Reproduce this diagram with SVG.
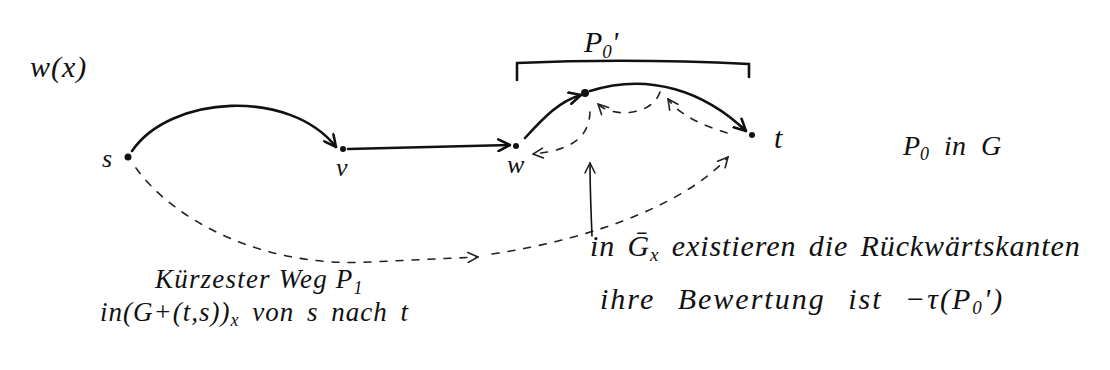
<svg xmlns="http://www.w3.org/2000/svg" width="1110" height="370" viewBox="0 0 1110 370">
<style>
  text { font-family: "Liberation Serif", "DejaVu Serif", serif; font-style: italic; fill: #111; }
  .solid { fill: none; stroke: #111; stroke-width: 2.6; stroke-linecap: round; }
  .dash { fill: none; stroke: #222; stroke-width: 1.6; stroke-dasharray: 7 9; stroke-linecap: round; }
  .thin { fill: none; stroke: #111; stroke-width: 1.6; stroke-linecap: round; }
  .node { fill: #111; }
</style>
<defs>
  <marker id="arrS" viewBox="0 0 12 12" refX="11" refY="6" markerWidth="14" markerHeight="14" markerUnits="userSpaceOnUse" orient="auto">
    <path d="M1,1 L11,6 L1,11" fill="none" stroke="#111" stroke-width="2.2" stroke-linecap="round"/>
  </marker>
  <marker id="arrD" viewBox="0 0 12 12" refX="11" refY="6" markerWidth="12" markerHeight="12" markerUnits="userSpaceOnUse" orient="auto">
    <path d="M1,1 L11,6 L1,11" fill="none" stroke="#222" stroke-width="1.6" stroke-linecap="round"/>
  </marker>
</defs>

<text x="30" y="77" font-size="30" letter-spacing="1">w(x)</text>

<g id="connectors">
  <path class="solid" d="M132,151 C170,95 290,88 336,147" marker-end="url(#arrS)"/>
  <path class="solid" d="M348,149 L510,145" marker-end="url(#arrS)"/>
  <path class="solid" d="M525,138 C545,116 560,101 581,95" marker-end="url(#arrS)"/>
  <path class="solid" d="M590,91 C650,72 705,92 746,131" marker-end="url(#arrS)"/>
  <path class="solid" d="M517,80 L517,63 Q630,58 749,64 L749,77"/>
  <path class="dash" d="M590,112 C589,135 575,150 533,154" marker-end="url(#arrD)"/>
  <path class="dash" d="M660,92 C652,116 612,118 598,104" marker-end="url(#arrD)"/>
  <path class="dash" d="M727,133 C705,126 680,116 668,99" marker-end="url(#arrD)"/>
  <path class="dash" d="M136,168 C175,222 265,268 370,262 L478,257" marker-end="url(#arrD)"/>
  <path class="dash" d="M492,254 C600,238 690,200 728,157" marker-end="url(#arrD)"/>
  <path class="thin" d="M592,236 C591,210 590,190 590,163" marker-end="url(#arrD)"/>
</g>

<g id="node-s">
  <circle class="node" cx="128" cy="157" r="3.5"/>
  <text x="102" y="167" font-size="26">s</text>
</g>
<g id="node-v">
  <circle class="node" cx="343" cy="149" r="3"/>
  <text x="336" y="176" font-size="26">v</text>
</g>
<g id="node-w">
  <circle class="node" cx="516" cy="146" r="3"/>
  <text x="507" y="173" font-size="26">w</text>
</g>
<g id="node-mid">
  <circle class="node" cx="585" cy="93" r="4"/>
</g>
<g id="node-t">
  <circle class="node" cx="752" cy="135" r="3"/>
  <text x="774" y="148" font-size="30">t</text>
</g>

<g id="labels">
  <text x="584" y="52" font-size="30">P<tspan font-size="19" dy="6">0</tspan><tspan dy="-6">'</tspan></text>
  <text x="903" y="155" font-size="28" word-spacing="8">P<tspan font-size="18" dy="5">0</tspan><tspan dy="-5"> in G</tspan></text>
  <text x="155" y="288" font-size="27" letter-spacing="1.2">Kürzester Weg P<tspan font-size="18" dy="6">1</tspan></text>
  <text x="100" y="321" font-size="27" letter-spacing="1" word-spacing="5">in(G+(t,s))<tspan font-size="18" dy="5">x</tspan><tspan dy="-5"> von s nach t</tspan></text>
  <text x="590" y="256" font-size="30" letter-spacing="0.9" word-spacing="4">in Ḡ<tspan font-size="19" dy="5">x</tspan><tspan dy="-5"> existieren die Rückwärtskanten</tspan></text>
  <text x="600" y="309" font-size="30" letter-spacing="2" word-spacing="13">ihre Bewertung ist −τ(P<tspan font-size="19" dy="5">0</tspan><tspan dy="-5">')</tspan></text>
</g>
</svg>
